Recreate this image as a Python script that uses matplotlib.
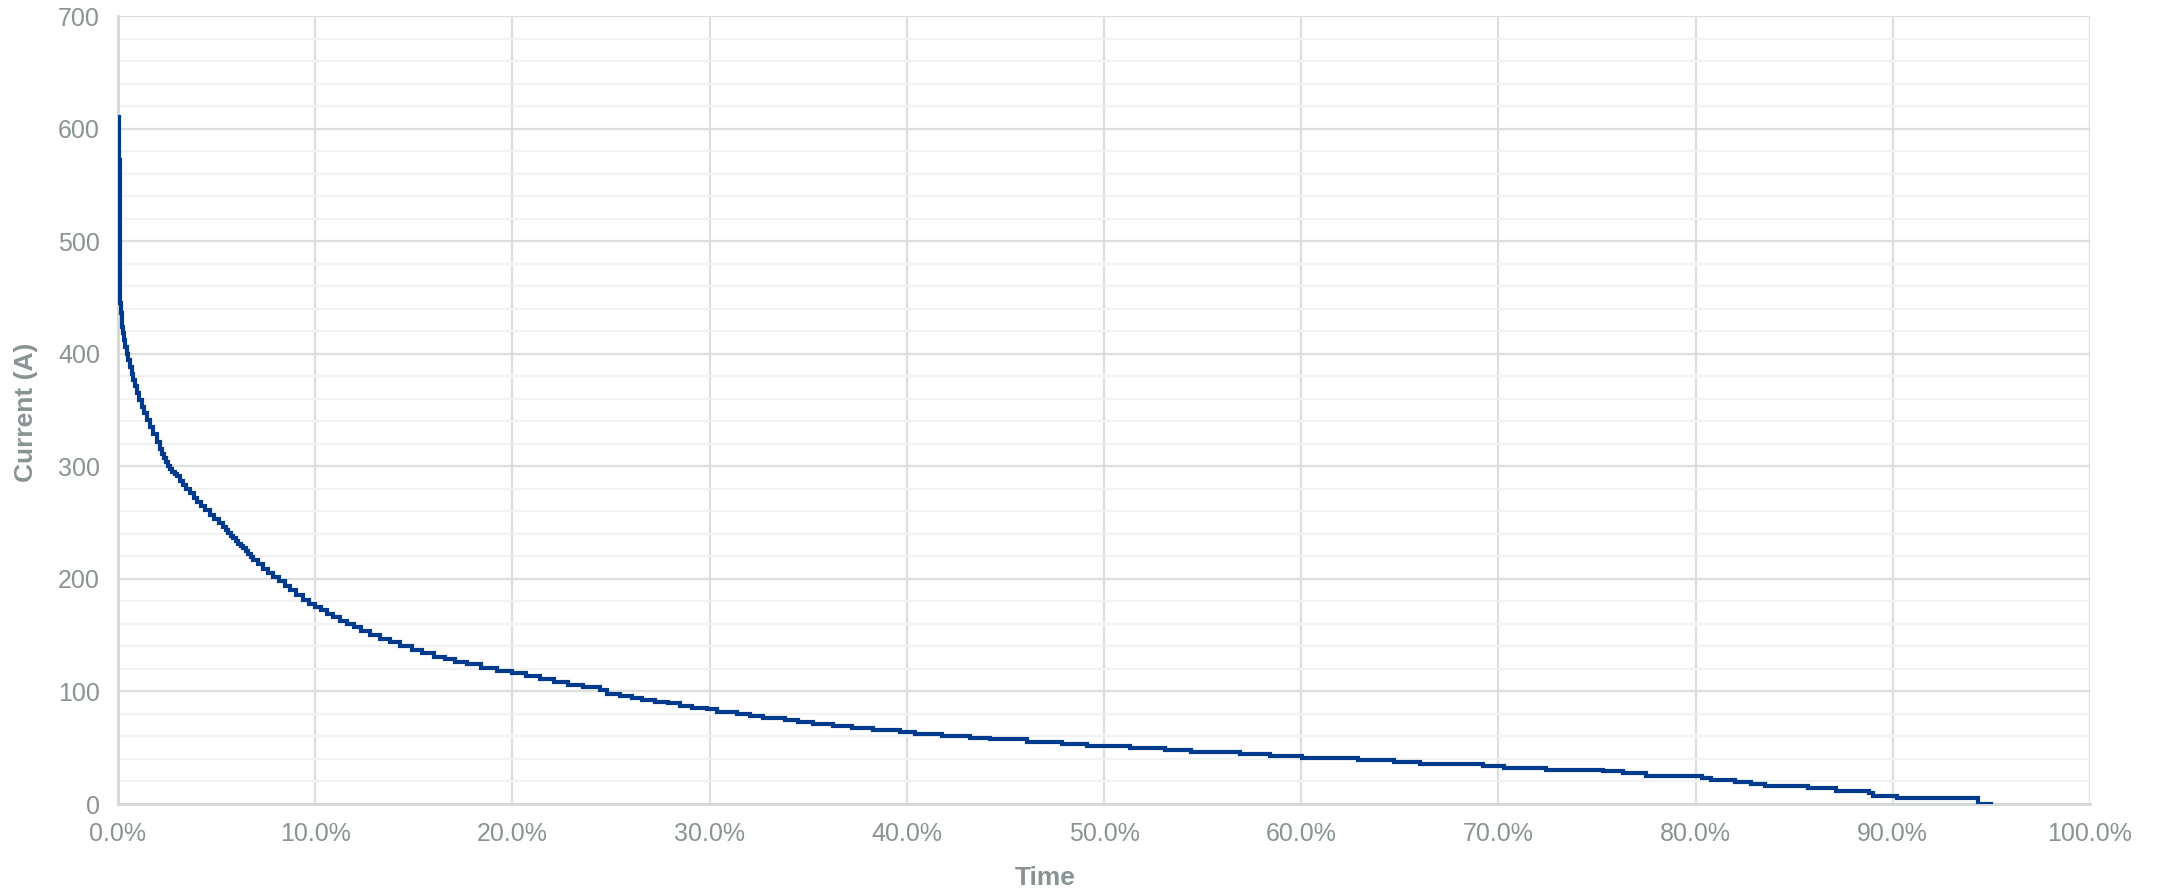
import matplotlib
matplotlib.use("Agg")
import matplotlib.pyplot as plt
from matplotlib.ticker import MultipleLocator, FuncFormatter

# Load duration curve: share of time (%) at which each current level begins
time_pct = [
    0.0, 0.04, 0.10, 0.14, 0.19, 0.24, 0.30, 0.37, 0.44, 0.52, 0.61, 0.69,
    0.78, 0.86, 0.95, 1.07, 1.20, 1.32, 1.45, 1.62, 1.79, 1.96, 2.13, 2.24,
    2.34, 2.45, 2.55, 2.66, 2.76, 2.87, 2.98, 3.14, 3.30, 3.47, 3.65, 3.83,
    4.02, 4.21, 4.41, 4.64, 4.87, 5.10, 5.34, 5.47, 5.60, 5.72, 5.85, 5.98,
    6.10, 6.22, 6.35, 6.47, 6.60, 6.73, 6.86, 7.10, 7.35, 7.60, 7.88, 8.15,
    8.45, 8.72, 9.05, 9.40, 9.70, 10.0, 10.3, 10.6, 10.9, 11.25, 11.6, 11.95,
    12.3, 12.8, 13.3, 13.8, 14.3, 14.9, 15.4, 16.0, 16.6, 17.1, 17.7, 18.4,
    19.2, 20.0, 20.7, 21.4, 22.1, 22.8, 23.6,
    24.44, 24.78, 25.46, 26.05, 26.56, 27.23, 27.91, 28.50, 29.09, 29.85,
    30.36, 31.37, 32.05, 32.72, 33.82, 34.50, 35.26, 36.27, 37.20, 38.30,
    39.65, 40.41, 41.76, 43.20, 44.21, 46.07, 47.85, 49.12,
    51.3, 53.1, 54.4, 56.9, 58.4, 60.06, 62.9, 64.7, 66.0, 69.2, 70.3, 72.4,
    75.3, 76.3, 77.5, 80.3, 80.8, 82.0, 82.8, 83.5, 85.7, 87.1, 88.8, 89.0,
    90.2, 94.3, 95.0,
]
current_a = [
    610, 572, 445, 436, 424, 418, 412, 406, 400, 394, 388, 382,
    377, 371, 365, 359, 353, 347, 341, 335, 329, 322, 315, 311,
    307, 303.5, 300, 297.5, 295, 293, 291, 287, 283, 279.5, 276, 272,
    268, 264.5, 261, 257, 253, 249.5, 246, 243.5, 241, 238.5, 236, 233.5,
    231, 229, 227, 224.5, 222, 219.5, 217, 213, 209, 205, 202, 198,
    194, 190, 186, 181, 178, 175, 172, 169, 166, 163, 160, 157,
    154, 150.5, 147, 143.5, 140, 137, 134, 131, 128.5, 126, 124, 121,
    118.5, 116, 113.5, 111, 108.5, 106, 103.5,
    101.3, 97.7, 95.9, 94.4, 92.4, 90.9, 89.4, 87.3, 85.6, 84.1,
    82.0, 80.2, 78.2, 76.7, 74.9, 72.8, 71.1, 69.3, 67.5, 65.7,
    64.0, 62.5, 60.7, 58.9, 57.5, 55.4, 53.3, 51.5,
    49.7, 48.2, 46.5, 44.4, 42.6, 40.9, 39.4, 37.6, 35.5, 33.8, 32.0, 30.2,
    29.3, 27.3, 25.2, 23.4, 21.6, 19.8, 18.0, 16.0, 14.2, 11.3, 9.5, 7.4,
    5.6, 0.3, 0.3,
]

x_ticks = [0, 10, 20, 30, 40, 50, 60, 70, 80, 90, 100]
y_ticks = [0, 100, 200, 300, 400, 500, 600, 700]

label_color = "#8a9393"
major_grid = "#dcdfdf"
minor_grid = "#f1f2f2"
line_color = "#003a8c"

plt.rcParams["font.family"] = ["Liberation Sans", "DejaVu Sans"]

fig = plt.figure(figsize=(21.64, 8.92), dpi=100)
ax = fig.add_axes([118 / 2164, 88 / 892, (2090 - 118) / 2164, (804 - 16) / 892])

ax.plot(time_pct, current_a, drawstyle="steps-post", color=line_color,
        linewidth=3.0, solid_joinstyle="miter", zorder=3)

ax.set_xlim(0, 100)
ax.set_ylim(0, 700)
ax.set_xticks(x_ticks)
ax.set_yticks(y_ticks)
ax.yaxis.set_minor_locator(MultipleLocator(20))
ax.xaxis.set_major_formatter(FuncFormatter(lambda v, _: f"{v:.1f}%"))

ax.grid(which="major", axis="both", color=major_grid, linewidth=1.6, zorder=0)
ax.grid(which="minor", axis="y", color=minor_grid, linewidth=1.6, zorder=0)
ax.set_axisbelow(True)

for side in ("top", "right"):
    ax.spines[side].set_visible(False)
for side in ("left", "bottom"):
    ax.spines[side].set_color("#d3d7d7")
    ax.spines[side].set_linewidth(2.0)

ax.tick_params(which="both", length=0)
ax.tick_params(axis="y", pad=13, labelsize=18, labelcolor=label_color)
ax.tick_params(axis="x", pad=13, labelsize=18, labelcolor=label_color)

fig.text(1045 / 2164, 1 - 878 / 892, "Time", ha="center", va="center",
         fontsize=19, fontweight="bold", color=label_color)
fig.text(26 / 2164, 1 - 412 / 892, "Current (A)", ha="center", va="center",
         rotation=90, fontsize=19, fontweight="bold", color=label_color)

fig.savefig("out.png", dpi=100, facecolor="white")
